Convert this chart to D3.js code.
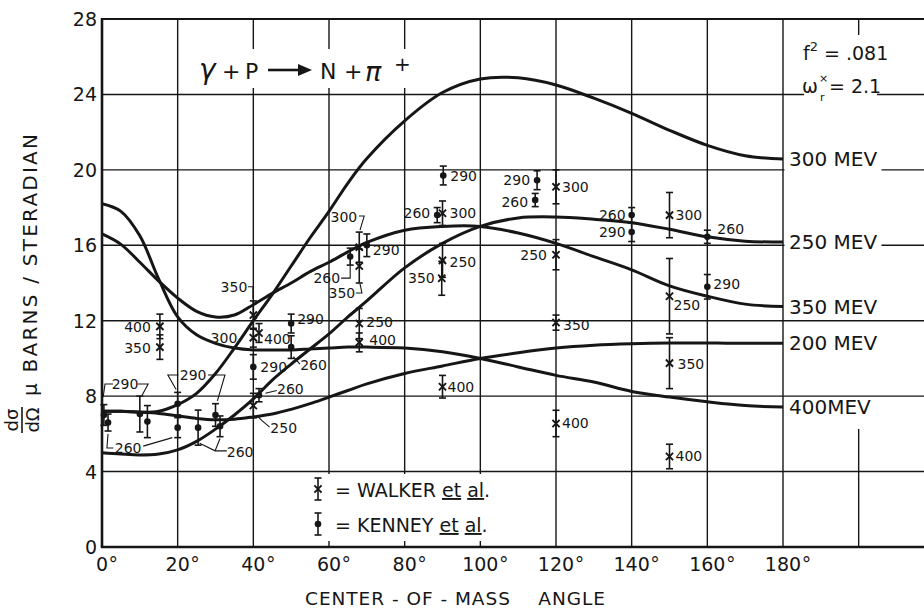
<!DOCTYPE html>
<html>
<head>
<meta charset="utf-8">
<script src="https://cdn.jsdelivr.net/npm/d3@7"></script>
<style>
  body { margin: 0; background: #fff; }
  svg { display: block; }
  text { font-family: "DejaVu Sans", sans-serif; fill: #161616; }
</style>
</head>
<body>
<svg id="chart" width="924" height="610"></svg>
<script>
// ---- theoretical curves: d sigma / d Omega (micro-barns / sr) vs. c.m. angle ----
const curveAngles = [0, 5, 10, 15, 20, 25, 30, 35, 40, 45, 50, 55, 60, 65, 70, 80, 90, 100, 110, 120, 130, 140, 150, 160, 170, 180];
const curve200 = [7.2, 7.2, 7.15, 7.08, 6.95, 6.82, 6.75, 6.78, 6.9, 7.05, 7.3, 7.6, 7.95, 8.3, 8.65, 9.2, 9.6, 10.0, 10.3, 10.55, 10.7, 10.78, 10.82, 10.82, 10.8, 10.8];
const curve250 = [5.0, 4.93, 4.88, 4.93, 5.15, 5.6, 6.25, 7.0, 7.85, 8.85, 9.7, 10.5, 11.3, 12.2, 13.05, 14.8, 16.1, 17.0, 17.45, 17.5, 17.38, 17.2, 16.85, 16.45, 16.22, 16.17];
const curve300 = [7.2, 7.2, 7.15, 7.2, 7.55, 8.15, 9.2, 10.55, 12.0, 13.4, 14.9, 16.4, 17.8, 19.3, 20.6, 22.6, 24.1, 24.82, 24.88, 24.5, 23.8, 23.0, 22.1, 21.3, 20.75, 20.57];
const curve350 = [16.6, 16.05, 15.1, 14.1, 13.2, 12.5, 12.2, 12.3, 12.85, 13.45, 14.0, 14.6, 15.1, 15.65, 16.15, 16.8, 17.0, 17.0, 16.65, 16.1, 15.4, 14.7, 13.85, 13.3, 12.88, 12.75];
const curve400 = [18.2, 17.8, 16.5, 14.2, 12.2, 11.25, 10.8, 10.55, 10.45, 10.45, 10.45, 10.5, 10.55, 10.6, 10.6, 10.55, 10.35, 10.0, 9.55, 9.1, 8.75, 8.25, 7.95, 7.7, 7.5, 7.42];
const curveLabels = ["200 MEV", "250 MEV", "300 MEV", "350 MEV", "400MEV"];

// ---- measurements: Walker et al. (crosses) ----
const walkerAngles   = [15.3, 15.3, 40, 40, 41.5, 40, 68, 68, 68, 68, 90, 90, 89.8, 90, 120, 120, 120, 120, 150, 150, 150, 150];
const walkerValues   = [11.7, 10.6, 12.3, 11.1, 11.35, 7.5, 15.9, 14.9, 11.85, 10.85, 17.7, 15.2, 14.25, 8.5, 19.1, 15.5, 11.9, 6.55, 17.6, 13.3, 9.75, 4.8];
const walkerErrors   = [0.65, 0.65, 0.75, 0.5, 0.5, 0.65, 0.8, 0.9, 0.8, 0.5, 0.65, 0.9, 0.9, 0.6, 0.9, 0.8, 0.4, 0.7, 1.2, 2.0, 1.35, 0.65];
const walkerEnergies = ["400", "350", "350", "300", "400", "250", "300", "350", "250", "400", "300", "250", "350", "400", "300", "250", "350", "400", "300", "250", "350", "400"];

// ---- measurements: Kenney et al. (dots) ----
const kenneyAngles   = [0.5, 1.6, 10, 12, 20, 20, 25.4, 30, 31.2, 41.5, 40, 50, 50, 65.6, 70, 88.6, 90.2, 114.5, 115, 140, 140, 160, 160];
const kenneyValues   = [7.0, 6.6, 7.05, 6.65, 7.6, 6.33, 6.33, 7.0, 6.4, 8.05, 9.55, 11.85, 10.6, 15.4, 16.0, 17.6, 19.7, 18.4, 19.45, 17.6, 16.7, 16.45, 13.8];
const kenneyErrors   = [0.55, 0.45, 0.95, 0.85, 0.6, 0.53, 0.93, 0.6, 0.55, 0.35, 0.65, 0.5, 0.6, 0.45, 0.6, 0.4, 0.5, 0.35, 0.5, 0.4, 0.5, 0.35, 0.65];
const kenneyEnergies = ["290", "260", "290", "260", "290", "260", "260", "290", "260", "260", "290", "290", "260", "260", "290", "260", "290", "260", "290", "260", "290", "260", "290"];

// label placement next to each marker, in pixels (null = labelled by a shared tag)
const walkerLabelOffsets = [[-9, 1], [-9, 1], [-6, -28], [-16, 0], [5, 6], [17, 22], [-2, -30], [-4, 27], [7, -2], [10, -2],
  [7, 0], [7, 2], [-7, 0], [5, 0], [6, 0], [-9, 0], [7, 2], [6, 0], [6, 0], [4, 9], [8, 1], [6, 0]];
const kenneyLabelOffsets = [null, null, null, null, null, null, null, null, null,
  [18, -6], [7, 0], [6, -5], [9, 18], [-10, 21], [6, 5], [-7, -2], [7, 0], [-7, 2], [-7, 0], [-6, 0], [-6, 0], [10, -8], [6, -3]];

// shared energy tags for the crowded forward-angle points
const sharedTagText   = ["290", "290", "260", "260"];
const sharedTagAngles = [6.1, 24.1, 6.9, 36.5];
const sharedTagValues = [8.64, 9.12, 5.25, 5.04];

// leader lines from tags to points, in (angle, value)
const leaders = [
  [[2.9, 8.64], [0.8, 8.64], [0.3, 7.95]],
  [[9.4, 8.64], [12.2, 8.64], [10.6, 8.05]],
  [[20.2, 9.12], [17.4, 9.12], [19.6, 8.35]],
  [[28.0, 9.12], [32.5, 9.12], [30.5, 7.75]],
  [[3.0, 5.25], [1.3, 5.25], [1.6, 6.0]],
  [[10.9, 5.35], [18.6, 5.8]],
  [[33.0, 5.1], [29.9, 5.1], [25.8, 5.5]],
  [[29.9, 5.1], [31.2, 5.75]],
  [[44.3, 6.36], [42.3, 6.7], [41.0, 6.95]],
  [[46.2, 8.3], [43.2, 8.15]],
  [[52.3, 9.7], [50.6, 10.1]],
  [[38.6, 13.8], [39.9, 13.8], [39.9, 13.15]],
  [[67.9, 17.55], [69.3, 17.55], [68.2, 16.8]],
  [[63.2, 14.26], [65.6, 14.26], [65.6, 14.9]],
  [[67.1, 13.47], [68.7, 13.47], [68.2, 13.95]]
];

const xTicks = [0, 20, 40, 60, 80, 100, 120, 140, 160, 180];
const yTicks = [0, 4, 8, 12, 16, 20, 24, 28];

// ---------------------------------------------------------------------------
const W = 924;
const ink = "#161616";
const svg = d3.select("#chart");
svg.append("rect").attr("width", W).attr("height", 610).attr("fill", "#fff");

const x = d3.scaleLinear().domain([0, 180]).range([102, 783]);
const y = d3.scaleLinear().domain([0, 28]).range([547, 19]);

// grid
const grid = svg.append("g").attr("stroke", ink).attr("fill", "none");
grid.selectAll("line.v").data(xTicks.filter(d => d > 0)).join("line")
  .attr("x1", d => x(d)).attr("x2", d => x(d))
  .attr("y1", y(0)).attr("y2", y(28)).attr("stroke-width", 1.4);
grid.selectAll("line.h").data(yTicks.filter(d => d > 0 && d < 28)).join("line")
  .attr("x1", x(0)).attr("x2", W)
  .attr("y1", d => y(d)).attr("y2", d => y(d)).attr("stroke-width", 1.4);
// partial rule at 200 degrees
[[27.15, 28], [0, 6.26]].forEach(([a, b]) => {
  grid.append("line").attr("x1", x(200)).attr("x2", x(200))
    .attr("y1", y(a)).attr("y2", y(b)).attr("stroke-width", 1.4);
});
// frame
grid.append("line").attr("x1", x(0) - 1).attr("x2", W).attr("y1", y(28)).attr("y2", y(28)).attr("stroke-width", 2.2);
grid.append("line").attr("x1", x(0) - 1.2).attr("x2", W).attr("y1", y(0)).attr("y2", y(0)).attr("stroke-width", 2.6);
grid.append("line").attr("x1", x(0)).attr("x2", x(0)).attr("y1", y(0)).attr("y2", y(28) - 1).attr("stroke-width", 2.6);

// clear panels behind the title and the key
const blank = svg.append("g").attr("fill", "#fff");
blank.append("rect").attr("x", 195).attr("y", 49).attr("width", 218).attr("height", 39);
blank.append("rect").attr("x", 312).attr("y", 474).attr("width", 238).attr("height", 67);

// theoretical curves
const series = [curve200, curve250, curve300, curve350, curve400];
const line = d3.line()
  .x((d, i) => x(curveAngles[i]))
  .y(d => y(d))
  .curve(d3.curveCatmullRom.alpha(0.5));
svg.append("g").selectAll("path").data(series).join("path")
  .attr("d", d => line(d)).attr("fill", "none")
  .attr("stroke", ink).attr("stroke-width", 3).attr("stroke-linejoin", "round");

// curve energy labels at 180 degrees
const mevG = svg.append("g");
series.forEach((vals, i) => {
  const yy = y(vals[vals.length - 1]);
  const t = mevG.append("text").attr("x", x(180) + 6).attr("y", yy)
    .attr("dominant-baseline", "central").attr("font-size", 20).text(curveLabels[i]);
  if (curveLabels[i] === "300 MEV" || curveLabels[i] === "250 MEV") {
    const bb = t.node().getBBox();
    mevG.insert("rect", "text").attr("x", x(180) + 1.5).attr("y", bb.y - 3)
      .attr("width", bb.x + bb.width + 4 - (x(180) + 1.5)).attr("height", bb.height + 6).attr("fill", "#fff");
  }
});

// error bars + markers
function errorBar(g, a, v, e) {
  const cx = x(a), y1 = y(v + e), y2 = y(v - e);
  g.append("line").attr("x1", cx).attr("x2", cx).attr("y1", y1).attr("y2", y2);
  g.append("line").attr("x1", cx - 3.5).attr("x2", cx + 3.5).attr("y1", y1).attr("y2", y1);
  g.append("line").attr("x1", cx - 3.5).attr("x2", cx + 3.5).attr("y1", y2).attr("y2", y2);
}
function tag(g, cx, cy, off, txt) {
  if (!off) return;
  g.append("text").attr("x", cx + off[0]).attr("y", cy + off[1])
    .attr("text-anchor", off[0] < 0 ? "end" : "start")
    .attr("dominant-baseline", "central").attr("font-size", 14).text(txt);
}
const pts = svg.append("g").attr("stroke", ink).attr("stroke-width", 1.6);
walkerAngles.forEach((a, i) => {
  const v = walkerValues[i];
  errorBar(pts, a, v, walkerErrors[i]);
  const cx = x(a), cy = y(v), s = 3.6;
  pts.append("path").attr("d", `M${cx - s},${cy - s}L${cx + s},${cy + s}M${cx - s},${cy + s}L${cx + s},${cy - s}`)
    .attr("stroke-width", 1.9);
});
kenneyAngles.forEach((a, i) => {
  errorBar(pts, a, kenneyValues[i], kenneyErrors[i]);
  pts.append("circle").attr("cx", x(a)).attr("cy", y(kenneyValues[i])).attr("r", 3.3)
    .attr("fill", ink).attr("stroke", "none");
});

// energy tags
const tags = svg.append("g");
walkerAngles.forEach((a, i) => tag(tags, x(a), y(walkerValues[i]), walkerLabelOffsets[i], walkerEnergies[i]));
kenneyAngles.forEach((a, i) => tag(tags, x(a), y(kenneyValues[i]), kenneyLabelOffsets[i], kenneyEnergies[i]));
sharedTagText.forEach((t, i) => {
  tags.append("text").attr("x", x(sharedTagAngles[i])).attr("y", y(sharedTagValues[i]))
    .attr("text-anchor", "middle").attr("dominant-baseline", "central").attr("font-size", 14).text(t);
});
const leaderLine = d3.line().x(d => x(d[0])).y(d => y(d[1]));
svg.append("g").selectAll("path").data(leaders).join("path")
  .attr("d", leaderLine).attr("fill", "none").attr("stroke", ink).attr("stroke-width", 1.1);

// axis tick labels
const ax = svg.append("g").attr("font-size", 19);
yTicks.forEach(d => {
  ax.append("text").attr("x", 97).attr("y", y(d)).attr("text-anchor", "end")
    .attr("dominant-baseline", "central").text(d);
});
xTicks.forEach(d => {
  const t = ax.append("text").attr("x", x(d)).attr("y", 571).attr("text-anchor", "middle").text(d);
  const w = t.node().getComputedTextLength();
  ax.append("text").attr("x", x(d) + w / 2 + 0.5).attr("y", 571).text("°");
});

// axis titles
svg.append("text").attr("x", 305).attr("y", 605).attr("font-size", 18.5)
  .style("white-space", "pre")
  .attr("textLength", 300).attr("lengthAdjust", "spacing")
  .text("CENTER - OF - MASS    ANGLE");
svg.append("text").attr("transform", "translate(37,265) rotate(-90)")
  .attr("text-anchor", "middle").attr("font-size", 20)
  .attr("textLength", 262).attr("lengthAdjust", "spacing")
  .text("μ BARNS / STERADIAN");
const frac = svg.append("g").attr("transform", "translate(22,420) rotate(-90)");
frac.append("text").attr("x", 0).attr("y", -4).attr("text-anchor", "middle").attr("font-size", 18).text("dσ");
frac.append("line").attr("x1", -13).attr("x2", 13).attr("y1", 0).attr("y2", 0).attr("stroke", ink).attr("stroke-width", 1.6);
frac.append("text").attr("x", 0).attr("y", 17).attr("text-anchor", "middle").attr("font-size", 18).text("dΩ");

// reaction
const title = svg.append("g");
title.append("text").attr("x", 199).attr("y", 79).attr("font-size", 28).attr("font-style", "italic").text("γ");
title.append("text").attr("x", 222).attr("y", 79).attr("font-size", 22).text("+");
title.append("text").attr("x", 245).attr("y", 79).attr("font-size", 22).text("P");
title.append("line").attr("x1", 268).attr("x2", 300).attr("y1", 70).attr("y2", 70).attr("stroke", ink).attr("stroke-width", 2.6);
title.append("path").attr("d", "M298,64L312,70L298,76Z").attr("fill", ink);
title.append("text").attr("x", 320).attr("y", 79).attr("font-size", 22).text("N");
title.append("text").attr("x", 344).attr("y", 79).attr("font-size", 22).text("+");
title.append("text").attr("x", 365).attr("y", 81).attr("font-size", 27).attr("font-style", "italic").text("π");
title.append("text").attr("x", 394).attr("y", 71).attr("font-size", 20).text("+");

// parameters
const par = svg.append("g").attr("font-size", 19);
par.append("rect").attr("x", 804).attr("y", 74).attr("width", 73).attr("height", 28).attr("fill", "#fff");
const f2 = par.append("text").attr("x", 803).attr("y", 60);
f2.append("tspan").text("f");
f2.append("tspan").attr("font-size", 13).attr("dy", -9).text("2");
f2.append("tspan").attr("dy", 9).text(" = .081");
par.append("text").attr("x", 802).attr("y", 93).text("ω");
par.append("text").attr("x", 819).attr("y", 82).attr("font-size", 11).text("×");
par.append("text").attr("x", 820).attr("y", 101).attr("font-size", 11).text("r");
par.append("text").attr("x", 829).attr("y", 93).text("= 2.1");

// key
const key = svg.append("g").attr("stroke", ink).attr("stroke-width", 1.6);
errorBar(key, x.invert(318), y.invert(489), (y.invert(478) - y.invert(500)) / 2);
key.append("path").attr("d", "M314.4,485.4L321.6,492.6M314.4,492.6L321.6,485.4").attr("stroke-width", 1.9);
errorBar(key, x.invert(318), y.invert(524), (y.invert(513) - y.invert(535)) / 2);
key.append("circle").attr("cx", 318).attr("cy", 524).attr("r", 3.3).attr("fill", ink).attr("stroke", "none");
[["WALKER", 497], ["KENNEY", 532]].forEach(([name, by]) => {
  const t = svg.append("text").attr("x", 335).attr("y", by).attr("font-size", 19);
  t.append("tspan").text(`= ${name} `);
  t.append("tspan").attr("text-decoration", "underline").text("et");
  t.append("tspan").text(" ");
  t.append("tspan").attr("text-decoration", "underline").text("al");
  t.append("tspan").text(".");
});
</script>
</body>
</html>
